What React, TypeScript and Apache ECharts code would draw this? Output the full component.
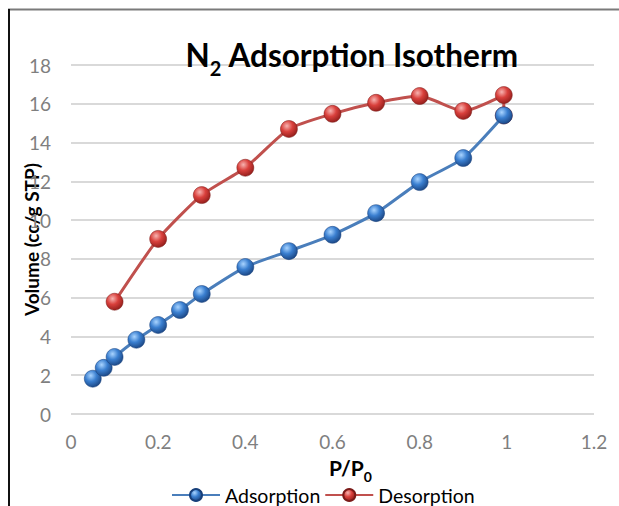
import React, { useEffect, useRef } from "react";
import * as echarts from "echarts";

const adsorptionX = [0.05, 0.075, 0.1, 0.15, 0.2, 0.25, 0.3, 0.4, 0.5, 0.6, 0.7, 0.8, 0.9, 0.993];
const adsorptionY = [1.82, 2.38, 2.94, 3.83, 4.59, 5.36, 6.19, 7.58, 8.4, 9.24, 10.36, 11.96, 13.2, 15.4];
const desorptionX = [0.993, 0.993, 0.9, 0.8, 0.7, 0.6, 0.5, 0.4, 0.3, 0.2, 0.1];
const desorptionY = [15.4, 16.45, 15.63, 16.4, 16.05, 15.48, 14.7, 12.7, 11.29, 9.03, 5.79];
const xTicks = { min: 0, max: 1.2, interval: 0.2 };
const yTicks = { min: 0, max: 18, interval: 2 };

const FONT = "Lato, 'Open Sans', sans-serif";

function sphere(light: string, mid: string, dark: string) {
  return {
    type: "radial",
    x: 0.38,
    y: 0.32,
    r: 0.75,
    colorStops: [
      { offset: 0, color: light },
      { offset: 0.45, color: mid },
      { offset: 1, color: dark },
    ],
  };
}

export default function App() {
  const ref = useRef<HTMLDivElement>(null);
  useEffect(() => {
    if (!ref.current) return;
    const chart = echarts.init(ref.current, undefined, { renderer: "svg" });
    const ads = adsorptionX.map((x, i) => [x, adsorptionY[i]]);
    const des = desorptionX.map((x, i) => [x, desorptionY[i]]);
    chart.setOption({
      animation: false,
      backgroundColor: "#ffffff",
      title: {
        text: "{a|N}{s|2}{a| Adsorption Isotherm}",
        left: 347,
        top: 28,
        textAlign: "center",
        textStyle: {
          rich: {
            a: { fontFamily: FONT, fontWeight: "bold", fontSize: 31.5, color: "#000", lineHeight: 38, verticalAlign: "bottom" },
            s: { fontFamily: FONT, fontWeight: "bold", fontSize: 20, color: "#000", lineHeight: 38, verticalAlign: "bottom", padding: [0, 0, -7, 0] },
          },
        },
      },
      legend: {
        left: 166,
        top: 480,
        itemWidth: 48,
        itemHeight: 15,
        itemGap: 4,
        textStyle: { fontFamily: FONT, fontSize: 19.5, color: "#000" },
        data: ["Adsorption", "Desorption"],
      },
      grid: { left: 71, right: 25, top: 65, bottom: 92, containLabel: false, outerBoundsMode: "none" },
      xAxis: {
        type: "value",
        min: xTicks.min,
        max: xTicks.max,
        interval: xTicks.interval,
        name: "{a|P/P}{s|0}",
        nameLocation: "middle",
        nameGap: 38,
        nameMoveOverlap: false,
        nameTextStyle: {
          padding: [0, 0, 0, 36],
          rich: {
            a: { fontFamily: FONT, fontWeight: "bold", fontSize: 21, color: "#000", lineHeight: 26, verticalAlign: "bottom" },
            s: { fontFamily: FONT, fontWeight: "bold", fontSize: 14, color: "#000", lineHeight: 26, verticalAlign: "bottom", padding: [0, 0, -5, 0] },
          },
        },
        axisLine: { show: false },
        axisTick: { show: false },
        splitLine: { show: false },
        axisLabel: {
          fontFamily: FONT,
          fontSize: 19,
          color: "#7f7f7f",
          margin: 18,
          formatter: (v: number) => String(Math.round(v * 10) / 10),
        },
      },
      yAxis: {
        type: "value",
        min: yTicks.min,
        max: yTicks.max,
        interval: yTicks.interval,
        name: "Volume (cc/g STP)",
        nameLocation: "middle",
        nameGap: 30,
        nameMoveOverlap: false,
        nameTextStyle: { fontFamily: FONT, fontWeight: "bold", fontSize: 19, color: "#000" },
        axisLine: { show: false },
        axisTick: { show: false },
        axisLabel: { fontFamily: FONT, fontSize: 19, color: "#7f7f7f", margin: 20 },
        splitLine: { show: true, lineStyle: { color: "#d9d9d9", width: 2 } },
      },
      series: [
        {
          name: "Desorption",
          type: "line",
          data: des,
          smooth: 0.2,
          z: 2,
          symbol: "circle",
          symbolSize: 17,
          lineStyle: { color: "#c0504d", width: 3 },
          itemStyle: { color: sphere("#f7b3b0", "#d9403c", "#8a1a17"), borderColor: "#7a1a18", borderWidth: 0.5 },
        },
        {
          name: "Adsorption",
          type: "line",
          data: ads,
          smooth: 0.2,
          z: 3,
          symbol: "circle",
          symbolSize: 17,
          lineStyle: { color: "#4a7ebb", width: 3 },
          itemStyle: { color: sphere("#a9d4ff", "#3a7fd0", "#173f7a"), borderColor: "#173f7a", borderWidth: 0.5 },
        },
      ],
      graphic: [
        { type: "line", shape: { x1: 8, y1: 9.5, x2: 619, y2: 9.5 }, style: { stroke: "#7a7a7a", lineWidth: 2 } },
        { type: "line", shape: { x1: 9, y1: 9, x2: 9, y2: 506 }, style: { stroke: "#111", lineWidth: 2 } },
      ],
    });
    return () => chart.dispose();
  }, []);
  return (
    <div style={{ position: "fixed", left: 0, top: 0, width: 619, height: 506 }}>
      <div ref={ref} style={{ width: 619, height: 506 }} />
    </div>
  );
}
